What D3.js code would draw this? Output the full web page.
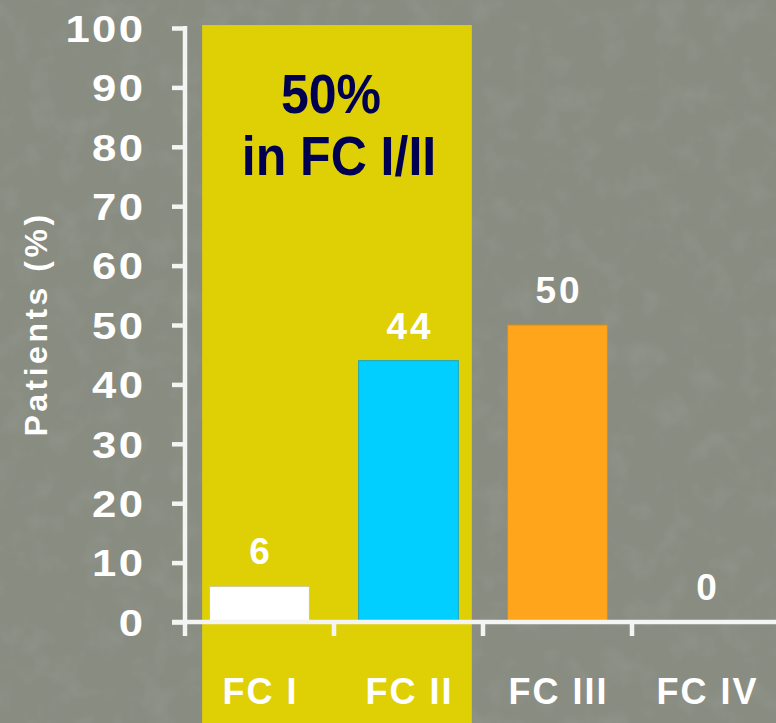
<!DOCTYPE html>
<html>
<head>
<meta charset="utf-8">
<script src="https://cdn.jsdelivr.net/npm/d3@7"></script>
<style>
  html, body { margin: 0; padding: 0; background: #878a7f; }
  svg { display: block; }
</style>
</head>
<body>
<svg id="chart" width="776" height="723"></svg>
<script>
// Functional class distribution of patients
const categories = ["FC I", "FC II", "FC III", "FC IV"];
const values = [6, 44, 50, 0];
const barColors = ["#ffffff", "#00cfff", "#ffa51c", "#ffa51c"];
const barStrokes = ["#c9c6a0", "#22a8b8", "#d98c10", "#d98c10"];
const yTicks = [0, 10, 20, 30, 40, 50, 60, 70, 80, 90, 100];
const highlightLines = ["50%", "in FC I/II"];
const yTitle = "Patients (%)";

const W = 776, H = 723;
const FONT = "Liberation Sans, Arial, sans-serif";
const svg = d3.select("#chart");

// textured background
const defs = svg.append("defs");
const f = defs.append("filter").attr("id", "grain")
  .attr("x", 0).attr("y", 0).attr("width", "100%").attr("height", "100%");
f.append("feTurbulence").attr("type", "fractalNoise")
  .attr("baseFrequency", 0.035).attr("numOctaves", 3).attr("seed", 7);
f.append("feColorMatrix").attr("type", "matrix")
  .attr("values", "0 0 0 0 0.35  0 0 0 0 0.37  0 0 0 0 0.33  0 0 0 -1.4 0.75");
f.append("feComposite").attr("in2", "SourceGraphic").attr("operator", "in");

svg.append("rect").attr("width", W).attr("height", H).attr("fill", "#898c81");
svg.append("rect").attr("width", W).attr("height", H).attr("fill", "#898c81")
  .attr("filter", "url(#grain)").attr("opacity", 0.45);

const x = d3.scaleBand().domain(categories).range([185, 781]).padding(0);
const y = d3.scaleLinear().domain([0, 100]).range([622, 28]);
const step = x.step();
const barW = step * 0.67;

// highlighted FC I / FC II region
const hx0 = x("FC I") + step * 0.115;
const hx1 = x("FC II") + step * 0.925;
svg.append("rect")
  .attr("x", hx0).attr("y", y(100.5))
  .attr("width", hx1 - hx0).attr("height", H - y(100.5))
  .attr("fill", "#dfcf05");

const lineShift = [-8, 0];
svg.append("g").selectAll("text").data(highlightLines).join("text")
  .attr("transform", (d, i) =>
    `translate(${(hx0 + hx1) / 2 + 2 + lineShift[i]},${113 + i * 62}) scale(1,1.1)`)
  .attr("text-anchor", "middle")
  .attr("font-family", FONT)
  .attr("font-weight", "bold")
  .attr("font-size", 50)
  .attr("fill", "#000050")
  .text(d => d);

// bars
svg.append("g").selectAll("rect").data(values).join("rect")
  .attr("x", (d, i) => x(categories[i]) + (step - barW) / 2)
  .attr("y", d => y(d))
  .attr("width", barW)
  .attr("height", d => y(0) - y(d))
  .attr("fill", (d, i) => barColors[i])
  .attr("stroke", (d, i) => d > 0 ? barStrokes[i] : "none")
  .attr("stroke-width", 1);

// value labels
svg.append("g").selectAll("text").data(values).join("text")
  .attr("x", (d, i) => x(categories[i]) + step / 2 + 1.5)
  .attr("y", d => y(d) - 22)
  .attr("text-anchor", "middle")
  .attr("font-family", FONT)
  .attr("font-weight", "bold")
  .attr("font-size", 37)
  .attr("letter-spacing", 3)
  .attr("fill", "#ffffff")
  .text(d => d);

// axes
const axisColor = "#f4f4f2";
const yAxis = svg.append("g")
  .attr("transform", "translate(185,0)")
  .call(d3.axisLeft(y).tickValues(yTicks).tickSize(13).tickPadding(30).tickSizeOuter(0));
yAxis.select(".domain").remove();
yAxis.selectAll(".tick line").attr("stroke", axisColor).attr("stroke-width", 4.5);
// wide tick numerals
const sx = 1.18;
yAxis.selectAll(".tick text")
  .attr("fill", "#ffffff")
  .attr("font-family", FONT)
  .attr("font-weight", "bold")
  .attr("font-size", 37)
  .attr("letter-spacing", 2)
  .attr("x", -33.6)
  .attr("dy", "0.36em")
  .attr("transform", `scale(${sx},1)`);

svg.append("line")
  .attr("x1", 185).attr("x2", 185)
  .attr("y1", y(100) - 2).attr("y2", y(0) + 14)
  .attr("stroke", axisColor).attr("stroke-width", 4.5);

const xAxis = svg.append("g")
  .attr("transform", `translate(0,${y(0)})`)
  .call(d3.axisBottom(x).tickSize(0).tickPadding(56));
xAxis.select(".domain").remove();
xAxis.selectAll(".tick text")
  .attr("fill", "#ffffff")
  .attr("font-family", FONT)
  .attr("font-weight", "bold")
  .attr("font-size", 36)
  .attr("letter-spacing", 2)
  .attr("dx", 1);

svg.append("line")
  .attr("x1", 172).attr("x2", W)
  .attr("y1", y(0)).attr("y2", y(0))
  .attr("stroke", axisColor).attr("stroke-width", 4.5);

// category separators below the axis
svg.append("g").selectAll("line").data(categories.slice(1)).join("line")
  .attr("x1", d => x(d)).attr("x2", d => x(d))
  .attr("y1", y(0)).attr("y2", y(0) + 14)
  .attr("stroke", axisColor).attr("stroke-width", 4.5);

// y axis title
svg.append("text")
  .attr("transform", `translate(47,${(208 + 440) / 2}) rotate(-90)`)
  .attr("text-anchor", "middle")
  .attr("font-family", FONT)
  .attr("font-weight", "bold")
  .attr("font-size", 32)
  .attr("letter-spacing", 3.5)
  .attr("fill", "#ffffff")
  .text(yTitle);
</script>
</body>
</html>
